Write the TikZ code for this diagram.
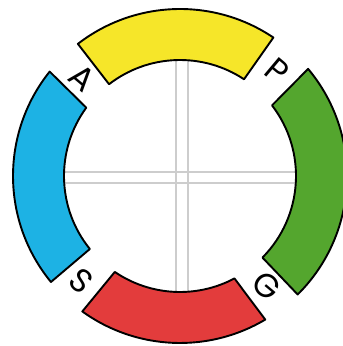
\documentclass[tikz,border=0pt]{standalone}
\usepackage{fontspec}
\newfontfamily\letterfont{Poppins}
\definecolor{segyellow}{RGB}{246,230,41}
\definecolor{segblue}{RGB}{29,178,228}
\definecolor{seggreen}{RGB}{84,166,46}
\definecolor{segred}{RGB}{227,60,60}
\definecolor{crossgray}{RGB}{205,205,205}
\tikzset{
  seg/.style={draw=black, line width=1.9pt, line join=round},
  crossline/.style={draw=crossgray, line width=2.2pt},
  letter/.style={font=\letterfont\fontsize{33}{33}\selectfont, text=black, rotate=-40, inner sep=0pt}
}
\newcommand{\ringseg}[6]{% color, outer start, outer end, inner end, inner start
  \draw[seg, fill=#1] ([shift={(#2:167pt)}]C) arc[start angle=#2, end angle=#3, radius=167pt]
    -- ([shift={(#4:116pt)}]C) arc[start angle=#4, end angle=#5, radius=116pt] -- cycle;}
\begin{document}
\begin{tikzpicture}[x=1pt,y=1pt]
\useasboundingbox (0,0) rectangle (343,346);
\fill[white] (0,0) rectangle (343,346);
\coordinate (C) at (180,170);
% cross lines
\begin{scope}
\clip (C) circle[radius=117pt];
\draw[crossline] (176,0) -- (176,346);
\draw[crossline] (188,0) -- (188,346);
\draw[crossline] (0,174) -- (343,174);
\draw[crossline] (0,163) -- (343,163);
\end{scope}
% ring segments
\ringseg{segyellow}{56}{127.7}{127.7}{56.5}{}
\ringseg{seggreen}{-45.2}{39.9}{37.5}{-44.7}{}
\ringseg{segred}{-125.8}{-59.3}{-62}{-124.2}{}
\ringseg{segblue}{141.3}{219.4}{219}{143.9}{}
% letters
\node[letter] (A) at (82,268) {A};
\node[letter] (P) at (277,275) {P};
\node[letter] (S) at (81,65) {S};
\node[letter] (G) at (267,60) {G};
\end{tikzpicture}
\end{document}
